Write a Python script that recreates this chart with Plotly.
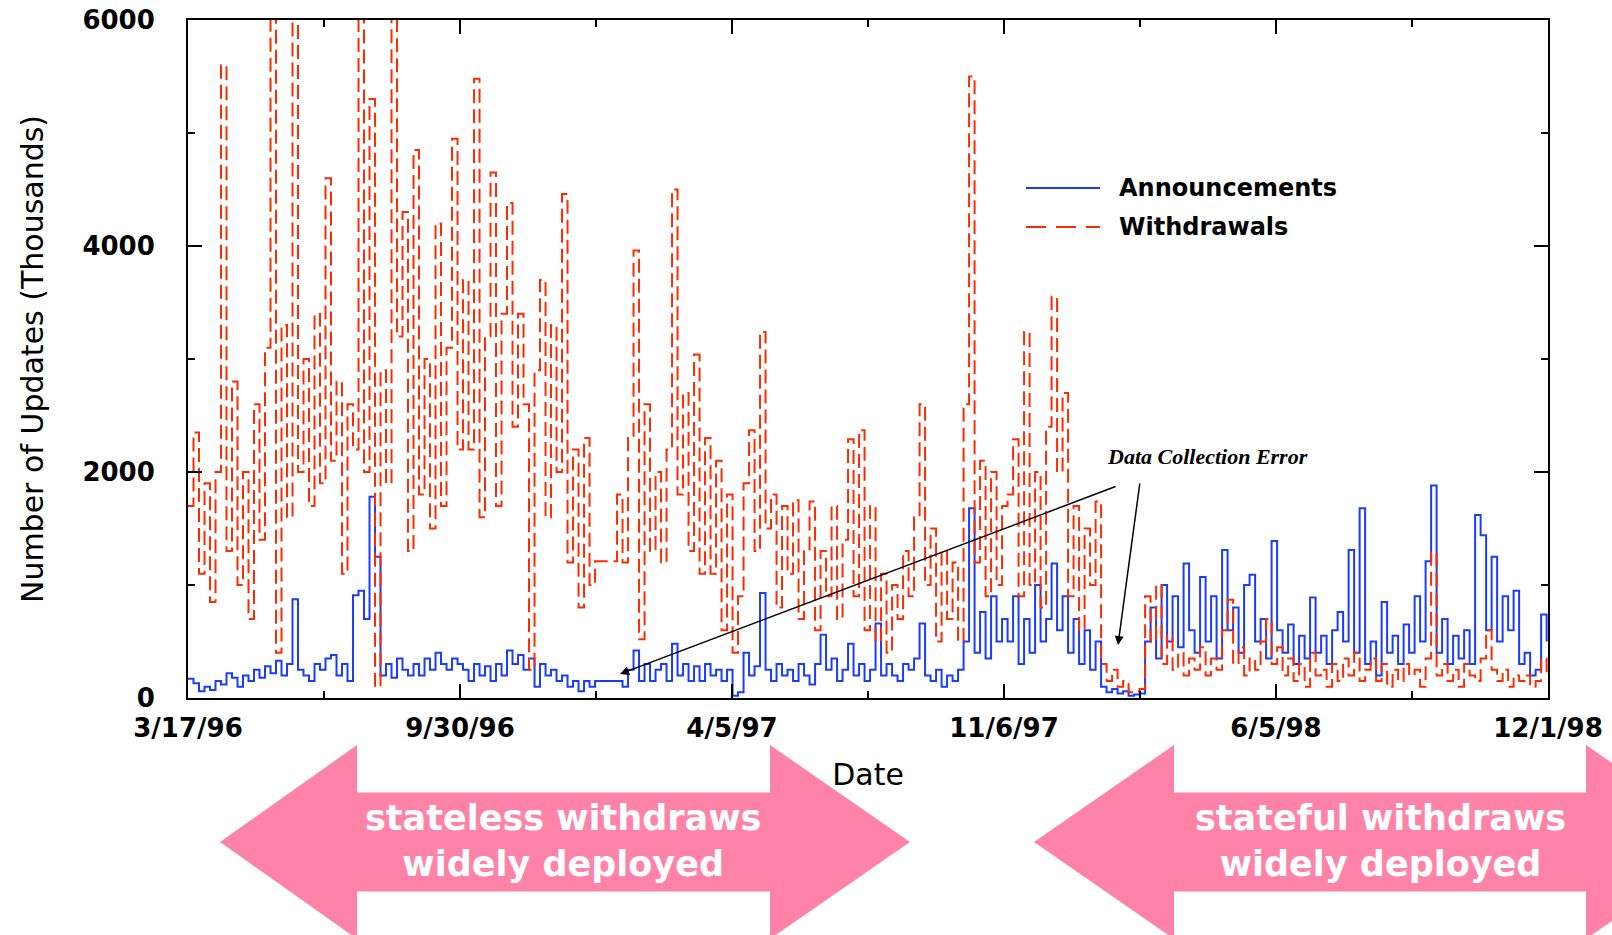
import pandas as pd
import plotly.graph_objects as go

# ---------------- data (daily BGP update counts, sampled every 4 days, thousands) -------------
START = pd.Timestamp("1996-03-17")
END = pd.Timestamp("1998-12-01")
STEP_DAYS = 4

withdrawals_1996a = [1700, 2350, 1100, 1900, 850, 2000, 5600, 1300, 2800, 1000,
                     2000, 700, 2600, 1400, 3100, 6500, 400, 3300, 1600, 6500,
                     2000, 3000, 1700, 3400, 1900, 4600, 2100, 2800, 1100, 2600,
                     2200, 6500, 2000, 5300, 100, 2900, 1900, 6500, 3200, 4300,
                     1300, 4850, 1800, 3000, 1500, 4200, 1700, 3100, 4950, 2200]
withdrawals_1996b = [3700, 2200, 5480, 1600, 3200, 4650, 1700, 3400, 4380, 2400,
                     3400, 2600, 250, 2900, 3700, 1600, 3300, 2000, 4460, 1200,
                     2200, 800, 2300, 1000, 1210, None, None, None, 1800, 1200,
                     2300, 3960, 520, 2600, 1300, 2000, 1200, 2200, 4500, 1800,
                     2700, 1300, 3040, 1100, 2300, 1100, 2100, 600, 1800, 400]
withdrawals_1997a = [900, 1900, 2370, 1300, 3240, 1500, 1800, 800, 1700, 1100,
                     1750, 700, 1300, 1740, 600, 1300, 900, 1700, 700, 1400,
                     2290, 900, 2370, 600, 1700, 500, 1100, 400, 1000, 700,
                     1300, 900, 1600, 2600, 1000, 1500, 500, 1300, 700, 1200,
                     500, 2600, 5500, 1200, 2100, 900, 2000, 1000, 1700]
withdrawals_1997b = [1800, 2290, 900, 3240, 1000, 2000, 800, 2400, 3550, 2000,
                     2700, 900, 1700, 600, 1500, 1000, 1740, 300, 150, 250,
                     100, 150, 50, 60, 80, 900, 500, 1000, 300, 550,
                     250, 400, 200, 350, 250, 450, 200, 350, 250, 600,
                     870, 300, 450, 200, 350, 250, 500, 700, 300, 450]
withdrawals_1998 = [200, 350, 150, 300, 100, 400, 200, 250, 100, 300,
                    150, 350, 200, 400, 150, 250, 350, 150, 300, 100,
                    250, 150, 300, 200, 250, 100, 350, 1290, 200, 300,
                    150, 250, 100, 300, 200, 150, 350, 600, 250, 150,
                    250, 100, 200, 150, 200, 100, 150, 350, 200]

announcements_1996a = [170, 130, 60, 100, 70, 150, 120, 220, 180, 100,
                       200, 150, 250, 180, 280, 220, 330, 200, 300, 875,
                       250, 200, 150, 300, 250, 350, 380, 200, 300, 150,
                       910, 950, 700, 1780, 1250, 200, 300, 180, 350, 250,
                       200, 300, 200, 350, 250, 400, 300, 250, 350, 300]
announcements_1996b = [250, 150, 300, 200, 280, 150, 300, 200, 420, 300,
                       380, 250, 350, 100, 300, 200, 250, 150, 200, 100,
                       150, 60, 150, 100, 150, None, None, None, 150, 100,
                       250, 420, 150, 300, 150, 250, 300, 150, 480, 200,
                       300, 150, 280, 150, 300, 200, 250, 150, 250, 20]
announcements_1997a = [50, 400, 200, 280, 930, 250, 150, 300, 200, 250,
                       150, 300, 200, 120, 300, 560, 250, 350, 150, 250,
                       480, 200, 300, 150, 250, 660, 200, 300, 200, 150,
                       300, 250, 350, 660, 200, 150, 250, 100, 200, 150,
                       250, 500, 1680, 400, 760, 350, 900, 500, 700]
announcements_1997b = [500, 900, 300, 700, 400, 1000, 500, 700, 1190, 600,
                       900, 400, 700, 300, 600, 250, 500, 100, 50, 80,
                       40, 60, 20, 30, 40, 500, 800, 350, 1000, 500,
                       900, 450, 1190, 600, 400, 1070, 500, 900, 350, 1310,
                       600, 800, 400, 1000, 1090, 500, 700, 350, 1390, 600]
announcements_1998 = [400, 650, 300, 550, 350, 890, 400, 550, 300, 600,
                      760, 500, 1310, 400, 1680, 300, 500, 200, 850, 400,
                      550, 300, 650, 400, 900, 500, 1210, 1880, 400, 700,
                      300, 550, 350, 600, 300, 1620, 1440, 600, 1250, 500,
                      900, 600, 950, 300, 400, 200, 250, 740, 500]

withdrawals = (withdrawals_1996a + withdrawals_1996b + withdrawals_1997a
               + withdrawals_1997b + withdrawals_1998)
announcements = (announcements_1996a + announcements_1996b + announcements_1997a
                 + announcements_1997b + announcements_1998)

tick_labels = ["3/17/96", "9/30/96", "4/5/97", "11/6/97", "6/5/98", "12/1/98"]
y_ticks = [0, 2000, 4000, 6000]

dates = [START + pd.Timedelta(days=STEP_DAYS * i) for i in range(len(withdrawals))]
span = (END - START) / 10
major_ticks = [START + span * (2 * k) for k in range(6)]
minor_ticks = [START + span * (2 * k + 1) for k in range(5)]

# ---------------- geometry helpers ----------------
W, H = 1612, 935
L, R, T, B = 188, 64, 20, 237
PW, PH = W - L - R, H - T - B


def px(x):
    return (x - L) / PW


def py(y):
    return (H - B - y) / PH


RED = "#ff2a00"
BLUE = "#1a3cff"
PINK = "#ff83a9"
TXT = "DejaVu Sans"

fig = go.Figure()
fig.add_trace(go.Scatter(x=dates, y=announcements, name="Announcements", mode="lines",
                         line=dict(color=BLUE, width=2, shape="hv"), connectgaps=True))
fig.add_trace(go.Scatter(x=dates, y=withdrawals, name="Withdrawals", mode="lines",
                         line=dict(color=RED, width=2, shape="hv", dash="14px,6px"),
                         connectgaps=True))

shapes = []


def block_arrow(x_tip_l, x_base_l, x_base_r, x_tip_r, yc, half_head, half_shaft):
    pts = [(x_tip_l, yc), (x_base_l, yc - half_head), (x_base_l, yc - half_shaft),
           (x_base_r, yc - half_shaft), (x_base_r, yc - half_head), (x_tip_r, yc),
           (x_base_r, yc + half_head), (x_base_r, yc + half_shaft),
           (x_base_l, yc + half_shaft), (x_base_l, yc + half_head)]
    d = "M " + " L ".join(f"{px(a):.5f},{py(b):.5f}" for a, b in pts) + " Z"
    return dict(type="path", path=d, xref="paper", yref="paper",
                fillcolor=PINK, line=dict(width=0), layer="above")


shapes.append(block_arrow(220, 357, 770, 910, 842, 97, 49.5))
shapes.append(block_arrow(1034, 1174, 1586, 1726, 842, 97, 49.5))

# custom legend lines
shapes.append(dict(type="line", xref="paper", yref="paper", x0=px(1026), x1=px(1100),
                   y0=py(188), y1=py(188), line=dict(color=BLUE, width=2)))
shapes.append(dict(type="line", xref="paper", yref="paper", x0=px(1026), x1=px(1100),
                   y0=py(227), y1=py(227), line=dict(color=RED, width=2, dash="20px,10px")))

annotations = [
    dict(xref="paper", yref="paper", x=px(1117), y=py(188), text="Announcements",
         showarrow=False, xanchor="left", yanchor="middle",
         font=dict(family=TXT, size=24, color="black", weight="bold")),
    dict(xref="paper", yref="paper", x=px(1117), y=py(227), text="Withdrawals",
         showarrow=False, xanchor="left", yanchor="middle",
         font=dict(family=TXT, size=24, color="black", weight="bold")),
    dict(xref="paper", yref="paper", x=px(1207), y=py(457), text="Data Collection Error",
         showarrow=False, xanchor="center", yanchor="middle",
         font=dict(family="Liberation Serif", size=22, color="black", weight="bold", style="italic")),
    dict(xref="paper", yref="paper", x=px(620), y=py(674), ax=1117 - 620, ay=486 - 674,
         text="", showarrow=True, arrowhead=2, arrowsize=1.2, arrowwidth=1.5, arrowcolor="black"),
    dict(xref="paper", yref="paper", x=px(1118), y=py(645), ax=1140 - 1118, ay=482 - 645,
         text="", showarrow=True, arrowhead=2, arrowsize=1.2, arrowwidth=1.5, arrowcolor="black"),
    dict(xref="paper", yref="paper", x=px(563), y=py(841),
         text="stateless withdraws<br>widely deployed", showarrow=False,
         xanchor="center", yanchor="middle", align="center",
         font=dict(family=TXT, size=35, color="white", weight="bold")),
    dict(xref="paper", yref="paper", x=px(1380), y=py(841),
         text="stateful withdraws<br>widely deployed", showarrow=False,
         xanchor="center", yanchor="middle", align="center",
         font=dict(family=TXT, size=35, color="white", weight="bold")),
]

fig.update_layout(
    width=W, height=H,
    margin=dict(l=L, r=R, t=T, b=B, autoexpand=False),
    paper_bgcolor="white", plot_bgcolor="white",
    showlegend=False,
    shapes=shapes, annotations=annotations,
    xaxis=dict(
        type="date", range=[START, END],
        tickmode="array", tickvals=major_ticks, ticktext=tick_labels,
        ticks="inside", ticklen=14, tickwidth=2, tickcolor="black",
        minor=dict(tickmode="array", tickvals=minor_ticks, ticks="inside",
                   ticklen=7, tickwidth=2, tickcolor="black", showgrid=False),
        showline=True, linecolor="black", linewidth=2, mirror="allticks",
        showgrid=False, zeroline=False,
        tickfont=dict(family=TXT, size=26, color="black", weight="bold"),
        ticklabelstandoff=6,
        title=dict(text="Date", font=dict(family=TXT, size=30, color="black"), standoff=22),
    ),
    yaxis=dict(
        range=[0, 6000], tickmode="array", tickvals=y_ticks,
        ticks="inside", ticklen=14, tickwidth=2, tickcolor="black",
        minor=dict(dtick=1000, ticks="inside", ticklen=7, tickwidth=2,
                   tickcolor="black", showgrid=False),
        showline=True, linecolor="black", linewidth=2, mirror="allticks",
        showgrid=False, zeroline=False,
        tickfont=dict(family=TXT, size=26, color="black", weight="bold"),
        ticklabelstandoff=26,
        title=dict(text="Number of Updates (Thousands)",
                   font=dict(family=TXT, size=30, color="black"), standoff=30),
    ),
)

fig.write_html("out.html")
